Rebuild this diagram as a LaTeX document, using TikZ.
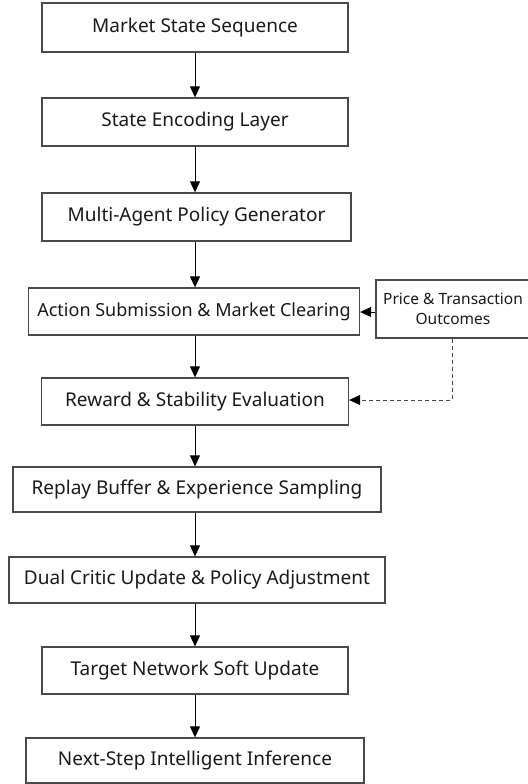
\documentclass[tikz,border=0pt]{standalone}
\usepackage{fontspec}
\setmainfont{Noto Sans}
\usetikzlibrary{arrows.meta,positioning,calc}
\definecolor{boxline}{HTML}{4A4A4A}
\definecolor{inktext}{HTML}{1A1A1A}
\tikzset{
  stagebox/.style={draw=boxline, line width=1.3bp, fill=white, inner sep=0pt,
    text=inktext, font=\fontsize{19bp}{22bp}\selectfont, align=center},
  widebox/.style={stagebox, font=\fontsize{18bp}{22bp}\selectfont},
  sidebox/.style={stagebox, font=\fontsize{15.5bp}{20bp}\selectfont},
  flow/.style={line width=1bp, draw=black, -{Triangle[length=11bp,width=10bp]}},
  feedback/.style={line width=1bp, draw=boxline, dash pattern=on 4bp off 3bp,
    -{Triangle[length=11bp,width=10bp,fill=black,color=black]}}
}
\begin{document}
\begin{tikzpicture}[x=1bp,y=-1bp]
  \useasboundingbox (0,0) rectangle (528,784);
  \coordinate (spine) at (195,0);
  % main pipeline stages
  \node[stagebox, minimum width=306bp, minimum height=49bp] (s1) at (195,27.5) {Market State Sequence};
  \node[stagebox, minimum width=306bp, minimum height=48bp] (s2) at (195,122) {State Encoding Layer};
  \node[stagebox, minimum width=309bp, minimum height=48bp] (s3) at (196.5,217) {Multi-Agent Policy Generator};
  \node[widebox, minimum width=331bp, minimum height=47bp] (s4) at (194,311.5) {Action Submission \& Market Clearing};
  \node[stagebox, minimum width=307bp, minimum height=47bp] (s5) at (195,401.5) {Reward \& Stability Evaluation};
  \node[stagebox, minimum width=368bp, minimum height=45bp] (s6) at (197,489.5) {Replay Buffer \& Experience Sampling};
  \node[stagebox, minimum width=376bp, minimum height=46bp] (s7) at (197,580) {Dual Critic Update \& Policy Adjustment};
  \node[stagebox, minimum width=306bp, minimum height=47bp] (s8) at (195,670.5) {Target Network Soft Update};
  \node[stagebox, minimum width=338bp, minimum height=45bp] (s9) at (195,760.5) {Next-Step Intelligent Inference};
  % market outcome side box
  \node[sidebox, minimum width=154bp, minimum height=58bp] (po) at (453,309) {Price \& Transaction\\Outcomes};
  % vertical flow
  \foreach \a/\b in {s1/s2,s2/s3,s3/s4,s4/s5,s5/s6,s6/s7,s7/s8,s8/s9}
    \draw[flow] (\a.south -| spine) -- (\b.north -| spine);
  % outcomes feed back into clearing and evaluation
  \draw[flow] (po.west |- 0,312) -- (s4.east |- 0,312);
  \coordinate (fbcorner) at (452,400);
  \draw[feedback] (po.south -| fbcorner) -- (fbcorner) -- (s5.east |- fbcorner);
\end{tikzpicture}
\end{document}
